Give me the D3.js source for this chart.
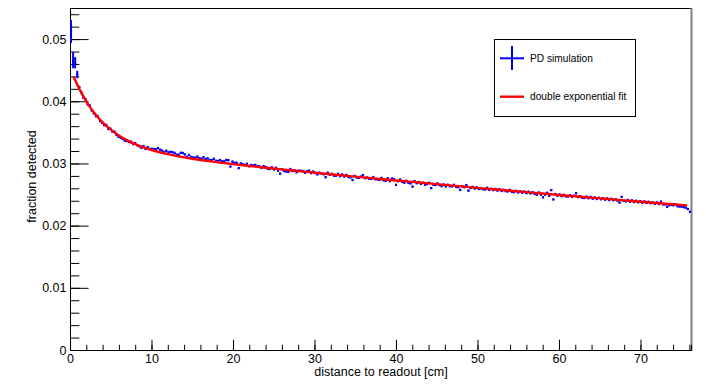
<!DOCTYPE html>
<html>
<head>
<meta charset="utf-8">
<script src="https://cdn.jsdelivr.net/npm/d3@7"></script>
<style>
  body { margin: 0; background: #fff; }
  svg { display: block; font-family: "Liberation Sans", Arial, Helvetica, sans-serif; }
</style>
</head>
<body>
<div class="chart"></div>
<script>
// histogram: 300 bins over the 76.2 cm readout length
const xMin = 0;
const xMax = 76.2;
const nBins = 300;

const fraction = [
  0.0512, 0.0466, 0.0462, 0.0443,
  0.04230, 0.04141, 0.04056, 0.04033,
  0.03948, 0.03935, 0.03851, 0.03806,
  0.03760, 0.03756, 0.03681, 0.03652,
  0.03615, 0.03620, 0.03556, 0.03560,
  0.03510, 0.03512, 0.03458, 0.03428,
  0.03412, 0.03394, 0.03366, 0.03360,
  0.03345, 0.03350, 0.03312, 0.03328,
  0.03291, 0.03276, 0.03251, 0.03279,
  0.03236, 0.03262, 0.03234, 0.03236,
  0.03232, 0.03228, 0.03246, 0.03222,
  0.03206, 0.03182, 0.03205, 0.03178,
  0.03187, 0.03181, 0.03170, 0.03142,
  0.03139, 0.03172, 0.03168, 0.03146,
  0.03108, 0.03136, 0.03105, 0.03095,
  0.03092, 0.03110, 0.03084, 0.03076,
  0.03098, 0.03070, 0.03081, 0.03056,
  0.03052, 0.03075, 0.03043, 0.03040,
  0.03055, 0.03033, 0.03032, 0.03055,
  0.03052, 0.02950, 0.03030, 0.03008,
  0.03012, 0.02925, 0.03000, 0.02986,
  0.02977, 0.02995, 0.02956, 0.02974,
  0.02968, 0.02976, 0.02956, 0.02951,
  0.02928, 0.02957, 0.02943, 0.02914,
  0.02911, 0.02936, 0.02904, 0.02930,
  0.02882, 0.02836, 0.02905, 0.02878,
  0.02871, 0.02866, 0.02910, 0.02878,
  0.02890, 0.02858, 0.02884, 0.02882,
  0.02878, 0.02852, 0.02872, 0.02884,
  0.02845, 0.02870, 0.02847, 0.02824,
  0.02852, 0.02837, 0.02826, 0.02778,
  0.02852, 0.02820, 0.02833, 0.02804,
  0.02804, 0.02833, 0.02794, 0.02823,
  0.02790, 0.02815, 0.02783, 0.02776,
  0.02735, 0.02798, 0.02775, 0.02769,
  0.02788, 0.02812, 0.02764, 0.02773,
  0.02754, 0.02751, 0.02781, 0.02746,
  0.02743, 0.02736, 0.02767, 0.02728,
  0.02721, 0.02762, 0.02716, 0.02757,
  0.02746, 0.02656, 0.02714, 0.02741,
  0.02704, 0.02691, 0.02722, 0.02687,
  0.02679, 0.02628, 0.02713, 0.02682,
  0.02701, 0.02672, 0.02689, 0.02660,
  0.02667, 0.02688, 0.02603, 0.02660,
  0.02653, 0.02678, 0.02651, 0.02636,
  0.02661, 0.02632, 0.02657, 0.02634,
  0.02631, 0.02656, 0.02623, 0.02618,
  0.02575, 0.02632, 0.02617, 0.02652,
  0.02563, 0.02606, 0.02623, 0.02596,
  0.02613, 0.02590, 0.02601, 0.02586,
  0.02581, 0.02608, 0.02576, 0.02593,
  0.02572, 0.02589, 0.02564, 0.02585,
  0.02558, 0.02575, 0.02554, 0.02551,
  0.02574, 0.02543, 0.02538, 0.02559,
  0.02534, 0.02551, 0.02530, 0.02549,
  0.02523, 0.02546, 0.02519, 0.02538,
  0.02511, 0.02498, 0.02533, 0.02498,
  0.02455, 0.02499, 0.02528, 0.02481,
  0.02571, 0.02421, 0.02508, 0.02483,
  0.02500, 0.02474, 0.02495, 0.02472,
  0.02467, 0.02488, 0.02463, 0.02481,
  0.02521, 0.02459, 0.02472, 0.02448,
  0.02445, 0.02466, 0.02441, 0.02461,
  0.02434, 0.02452, 0.02429, 0.02448,
  0.02425, 0.02441, 0.02418, 0.02437,
  0.02412, 0.02432, 0.02407, 0.02426,
  0.02403, 0.02372, 0.02462, 0.02399,
  0.02392, 0.02413, 0.02385, 0.02406,
  0.02379, 0.02400, 0.02375, 0.02393,
  0.02370, 0.02389, 0.02365, 0.02384,
  0.02361, 0.02375, 0.02352, 0.02372,
  0.02347, 0.02386, 0.02342, 0.02341,
  0.02302, 0.02328, 0.02337, 0.02327,
  0.02344, 0.02312, 0.02308, 0.02306,
  0.02298, 0.02289, 0.02267, 0.02223
];
// errors of the first bins, the rest are about the marker size
const headErrors = [0.00185, 0.0013, 0.0009, 0.0006];
const tailError = 0.00012;

// double exponential fit
const fitX = [0.45, 1, 1.5, 2, 2.5, 3, 3.5, 4, 4.5, 5, 5.5, 6, 6.5, 7, 8, 9, 10,
  11, 12, 13, 14, 15, 16, 17, 18, 19, 20, 22, 24, 26, 28, 30, 32, 34, 36, 38,
  40, 42, 44, 46, 48, 50, 52, 54, 56, 58, 60, 62, 64, 66, 68, 70, 72, 74, 75.7];
const fitY = [0.04394, 0.04236, 0.04110, 0.03997, 0.03898, 0.03810, 0.03731,
  0.03661, 0.03599, 0.03543, 0.03493, 0.03449, 0.03409, 0.03372, 0.03310,
  0.03259, 0.03216, 0.03180, 0.03149, 0.03122, 0.03098, 0.03076, 0.03056,
  0.03038, 0.03021, 0.03005, 0.02989, 0.02960, 0.02932, 0.02904, 0.02878,
  0.02852, 0.02826, 0.02801, 0.02776, 0.02751, 0.02727, 0.02703, 0.02679,
  0.02655, 0.02631, 0.02607, 0.02585, 0.02562, 0.02539, 0.02516, 0.02493,
  0.02472, 0.02450, 0.02428, 0.02407, 0.02384, 0.02364, 0.02343, 0.02325];

const xTicks = [0, 10, 20, 30, 40, 50, 60, 70];
const yTicks = [0, 0.01, 0.02, 0.03, 0.04, 0.05];
const yMax = 0.055;
const legendLabels = ['PD simulation', 'double exponential fit'];

const width = 706;
const height = 389;
const font = '"Liberation Sans", Arial, Helvetica, sans-serif';

const x = d3.scaleLinear().domain([xMin, xMax]).range([70, 691]);
const y = d3.scaleLinear().domain([0, yMax]).range([350, 8]);

const svg = d3.select('.chart').append('svg')
  .attr('width', width)
  .attr('height', height);

svg.append('rect').attr('width', width).attr('height', height).attr('fill', '#fff');

// frame top and right
svg.append('line')
  .attr('x1', 70.5).attr('x2', 691.5).attr('y1', 8.5).attr('y2', 8.5)
  .attr('stroke', '#000');
svg.append('line')
  .attr('x1', 691.5).attr('x2', 691.5).attr('y1', 8).attr('y2', 351)
  .attr('stroke', '#808080').attr('stroke-width', 2);

// axes, ticks inward
function styleAxis(g) {
  g.attr('font-size', 12.5).attr('font-family', font);
  g.selectAll('line').attr('stroke', '#000');
  g.select('.domain').attr('stroke', '#000');
  g.selectAll('text').attr('fill', '#000');
}

const binW = (xMax - xMin) / nBins;
const xMinor = d3.range(0, 39).map(i => i * 2);
const yMinor = d3.range(0, 28).map(i => i * 0.002);

svg.append('g')
  .attr('transform', 'translate(0,350)')
  .call(d3.axisBottom(x).tickValues(xMinor).tickSize(-5.2).tickFormat(''))
  .call(styleAxis);
svg.append('g')
  .attr('transform', 'translate(0,350)')
  .call(d3.axisBottom(x).tickValues(xTicks).tickSize(-10.3).tickSizeOuter(0)
    .tickPadding(4).tickFormat(d3.format('d')))
  .call(styleAxis);

svg.append('g')
  .attr('transform', 'translate(70,0)')
  .call(d3.axisLeft(y).tickValues(yMinor).tickSize(-9.3).tickFormat(''))
  .call(styleAxis);
svg.append('g')
  .attr('transform', 'translate(70,0)')
  .call(d3.axisLeft(y).tickValues(yTicks).tickSize(-18.6).tickSizeOuter(0)
    .tickPadding(3.5).tickFormat(d => d === 0 ? '0' : d3.format('.2f')(d)))
  .call(styleAxis);

// axis titles
svg.append('text')
  .attr('x', 381).attr('y', 376)
  .attr('text-anchor', 'middle')
  .attr('font-size', 12.5).attr('font-family', font)
  .text('distance to readout [cm]');
svg.append('text')
  .attr('transform', 'translate(36,176.5) rotate(-90)')
  .attr('text-anchor', 'middle')
  .attr('font-size', 12.5).attr('font-family', font)
  .text('fraction detected');

// histogram with error bars
const bins = fraction.map((v, i) => ({
  lo: xMin + i * binW,
  hi: xMin + (i + 1) * binW,
  v: v,
  e: i < headErrors.length ? headErrors[i] : tailError
}));

const hist = svg.append('g').attr('stroke', '#0000ff');
hist.selectAll('line.h')
  .data(bins)
  .enter()
  .append('line')
  .attr('class', 'h')
  .attr('x1', d => x(d.lo))
  .attr('x2', d => x(d.hi))
  .attr('y1', d => y(d.v))
  .attr('y2', d => y(d.v))
  .attr('stroke-width', 2.4);
hist.selectAll('line.v')
  .data(bins)
  .enter()
  .append('line')
  .attr('class', 'v')
  .attr('x1', d => x((d.lo + d.hi) / 2))
  .attr('x2', d => x((d.lo + d.hi) / 2))
  .attr('y1', d => y(d.v - d.e))
  .attr('y2', d => y(d.v + d.e))
  .attr('stroke-width', 2);

// fit curve
const fitLine = d3.line()
  .x(d => x(d[0]))
  .y(d => y(d[1]))
  .curve(d3.curveMonotoneX);
svg.append('path')
  .datum(fitX.map((fx, i) => [fx, fitY[i]]))
  .attr('d', fitLine)
  .attr('fill', 'none')
  .attr('stroke', '#ff0000')
  .attr('stroke-width', 2.4);

// legend
const legend = svg.append('g');
legend.append('rect')
  .attr('x', 494.5).attr('y', 39.5)
  .attr('width', 141).attr('height', 77)
  .attr('fill', '#fff')
  .attr('stroke', '#000');
legend.append('line')
  .attr('x1', 500).attr('x2', 524).attr('y1', 58.3).attr('y2', 58.3)
  .attr('stroke', '#0000ff').attr('stroke-width', 2);
legend.append('line')
  .attr('x1', 512).attr('x2', 512).attr('y1', 46).attr('y2', 70)
  .attr('stroke', '#0000ff').attr('stroke-width', 2);
legend.append('line')
  .attr('x1', 500).attr('x2', 524).attr('y1', 96.7).attr('y2', 96.7)
  .attr('stroke', '#ff0000').attr('stroke-width', 2.4);
legend.selectAll('text')
  .data(legendLabels)
  .enter()
  .append('text')
  .attr('x', 530)
  .attr('y', (d, i) => [61.6, 100][i])
  .attr('font-size', 10.2)
  .attr('font-family', font)
  .text(d => d);
</script>
</body>
</html>
